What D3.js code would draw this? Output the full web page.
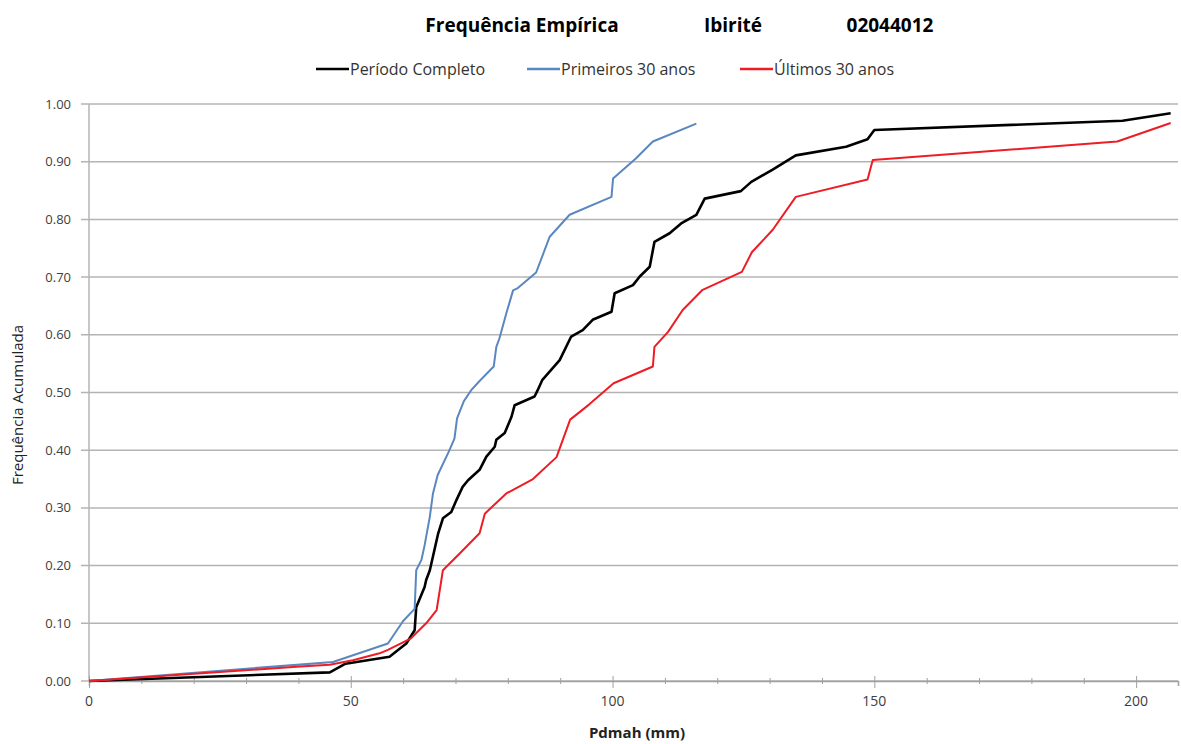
<!DOCTYPE html>
<html>
<head>
<meta charset="utf-8">
<script src="https://cdn.jsdelivr.net/npm/d3@7"></script>
<style>
  body { margin: 0; background: #fff; }
  text { font-family: "Open Sans", Lato, sans-serif; }
</style>
</head>
<body>
<svg width="1181" height="744"></svg>
<script>
var width = 1181;
var height = 744;

// Data: [Pdmah (mm), cumulative frequency]
var completo = [
  [0, 0], [46, 0.015], [49, 0.03], [57.4, 0.042], [60.6, 0.065], [62.2, 0.088],
  [62.5, 0.128], [64.1, 0.163], [64.4, 0.175], [65.1, 0.192], [66.7, 0.256],
  [67.6, 0.282], [69.2, 0.293], [70.2, 0.314], [71.4, 0.337], [72.4, 0.348],
  [74.6, 0.366], [75.9, 0.389], [77.5, 0.406], [77.8, 0.418], [79.4, 0.43],
  [80.7, 0.458], [81.3, 0.478], [85.1, 0.493], [85.7, 0.504], [86.6, 0.522],
  [89.9, 0.556], [92.1, 0.597], [94.3, 0.608], [96.2, 0.626], [99.8, 0.64],
  [100.4, 0.672], [103.9, 0.686], [105.2, 0.701], [107.1, 0.718], [108, 0.761],
  [110.9, 0.776], [113.1, 0.793], [116, 0.808], [117.6, 0.836], [124.5, 0.849],
  [126.5, 0.865], [130.5, 0.886], [135, 0.911], [144.6, 0.926], [148.7, 0.939],
  [150, 0.955], [197.4, 0.971], [206.6, 0.984]
];
var primeiros = [
  [0, 0], [46.6, 0.033], [57.1, 0.065], [60, 0.104], [62.2, 0.125], [62.5, 0.192],
  [63.5, 0.21], [64.1, 0.235], [65.1, 0.285], [65.7, 0.325], [66.6, 0.357],
  [68.7, 0.397], [69.8, 0.42], [70.3, 0.455], [71.6, 0.485], [73, 0.504],
  [74.6, 0.52], [77.3, 0.545], [77.8, 0.579], [78.4, 0.594], [79.7, 0.637],
  [81, 0.677], [81.9, 0.681], [85.4, 0.708], [88, 0.77], [91.8, 0.808],
  [99.8, 0.839], [100.1, 0.871], [104.5, 0.906], [107.7, 0.935], [116, 0.966]
];
var ultimos = [
  [0, 0], [40.3, 0.025], [46, 0.028], [50.4, 0.036], [55.5, 0.048], [57.1, 0.054],
  [61.5, 0.074], [64.4, 0.1], [66.4, 0.123], [67.6, 0.192], [70.8, 0.221],
  [74.6, 0.256], [75.6, 0.29], [79.7, 0.325], [84.8, 0.35], [89.3, 0.388],
  [91.9, 0.453], [95.5, 0.479], [100.2, 0.516], [107.7, 0.545], [108, 0.579],
  [110.6, 0.605], [113.4, 0.643], [117.2, 0.678], [124.7, 0.709], [126.6, 0.743],
  [130.6, 0.782], [135, 0.839], [148.7, 0.869], [149.7, 0.903], [196.4, 0.935],
  [206.6, 0.967]
];

var seriesNames = ["Período Completo", "Primeiros 30 anos", "Últimos 30 anos"];
var seriesColors = ["#000000", "#5b87c0", "#ee1c25"];
var xTicks = [0, 50, 100, 150, 200];
var yTicks = [0, 0.1, 0.2, 0.3, 0.4, 0.5, 0.6, 0.7, 0.8, 0.9, 1.0];

var svg = d3.select("svg");

var padding = { t: 104, r: 3, b: 63, l: 89 };
var chartWidth = width - padding.l - padding.r;
var chartHeight = height - padding.t - padding.b;

var xScale = d3.scaleLinear().domain([0, 208]).range([0, chartWidth]);
var yScale = d3.scaleLinear().domain([0, 1]).range([chartHeight, 0]);

var chart = svg.append("g")
  .attr("transform", "translate(" + padding.l + "," + padding.t + ")");

// horizontal gridlines
chart.append("g")
  .selectAll("line")
  .data(yTicks)
  .enter()
  .append("line")
  .attr("x1", -8)
  .attr("x2", chartWidth)
  .attr("y1", d => yScale(d))
  .attr("y2", d => yScale(d))
  .attr("stroke", "#b4b4b4")
  .attr("stroke-width", 1.5);

// y axis line
chart.append("line")
  .attr("x1", 0).attr("x2", 0)
  .attr("y1", 0).attr("y2", chartHeight)
  .attr("stroke", "#b4b4b4")
  .attr("stroke-width", 1.5);

// y tick labels
chart.append("g")
  .selectAll("text")
  .data(yTicks)
  .enter()
  .append("text")
  .attr("x", -18)
  .attr("y", d => yScale(d))
  .attr("dy", "0.35em")
  .attr("text-anchor", "end")
  .style("font-size", "13px")
  .style("fill", "#404040")
  .text(d => d.toFixed(2));

// x axis with minor ticks every 10
var xAxis = d3.axisBottom(xScale)
  .tickValues(d3.range(0, 210, 10))
  .tickSize(5)
  .tickFormat("");
var xg = chart.append("g")
  .attr("transform", "translate(0," + chartHeight + ")")
  .call(xAxis);
xg.select(".domain").attr("stroke", "#a0a0a0").attr("stroke-width", 1.5);
xg.selectAll(".tick line")
  .attr("stroke", "#a0a0a0")
  .attr("y1", d => d % 50 === 0 ? -5 : -3)
  .attr("y2", d => d % 50 === 0 ? 7 : 3);

chart.append("g")
  .selectAll("text")
  .data(xTicks)
  .enter()
  .append("text")
  .attr("x", d => xScale(d))
  .attr("y", chartHeight + 25)
  .attr("text-anchor", "middle")
  .style("font-size", "14px")
  .style("fill", "#404040")
  .text(d => d);

// axis titles
svg.append("text")
  .attr("x", 637)
  .attr("y", 738)
  .attr("text-anchor", "middle")
  .style("font-size", "15px")
  .style("font-weight", "bold")
  .style("fill", "#222")
  .text("Pdmah (mm)");

svg.append("text")
  .attr("transform", "translate(23,405) rotate(-90)")
  .attr("text-anchor", "middle")
  .style("font-size", "15px")
  .style("fill", "#222")
  .text("Frequência Acumulada");

// title
var title = svg.append("g").style("font-size", "19px").style("font-weight", "bold");
title.append("text").attr("x", 522).attr("y", 32).attr("text-anchor", "middle").text("Frequência Empírica");
title.append("text").attr("x", 733).attr("y", 32).attr("text-anchor", "middle").text("Ibirité");
title.append("text").attr("x", 890).attr("y", 32).attr("text-anchor", "middle").text("02044012");

// legend
var legendX = [316, 527, 740];
var legend = svg.append("g")
  .selectAll("g")
  .data(seriesNames)
  .enter()
  .append("g")
  .attr("transform", (d, i) => "translate(" + legendX[i] + ",69)");
legend.append("line")
  .attr("x1", 0).attr("x2", 33)
  .attr("stroke", (d, i) => seriesColors[i])
  .attr("stroke-width", 2.5);
legend.append("text")
  .attr("x", 34)
  .attr("dy", "0.35em")
  .style("font-size", "16px")
  .style("fill", "#333")
  .text(d => d);

// lines
var line = d3.line()
  .x(d => xScale(d[0]))
  .y(d => yScale(d[1]));

var allSeries = [completo, primeiros, ultimos];
var widths = [2.6, 2, 2];
chart.append("g")
  .selectAll("path")
  .data(allSeries)
  .enter()
  .append("path")
  .attr("d", line)
  .attr("fill", "none")
  .attr("stroke", (d, i) => seriesColors[i])
  .attr("stroke-width", (d, i) => widths[i])
  .attr("stroke-linejoin", "round");
</script>
</body>
</html>
